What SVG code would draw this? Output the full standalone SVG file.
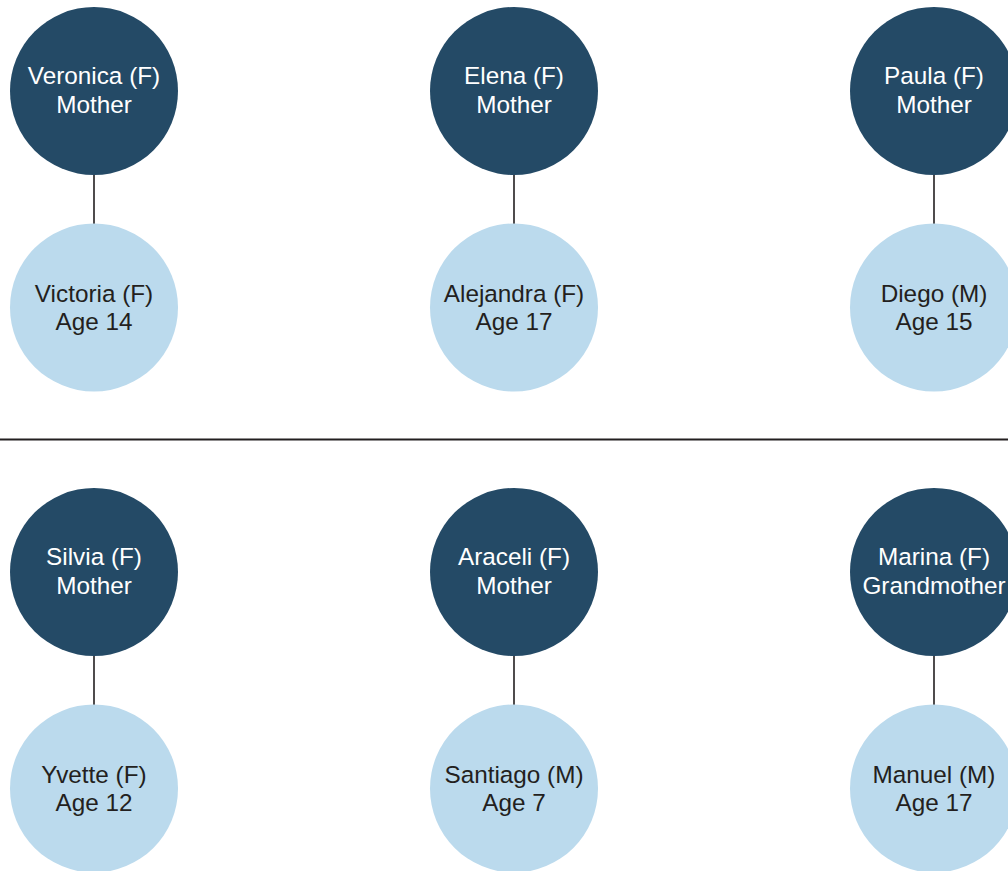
<svg xmlns="http://www.w3.org/2000/svg" width="1008" height="871" viewBox="0 0 1008 871">
<style>
.p{fill:#244A66}
.c{fill:#BBDAED}
text{font-family:"Liberation Sans",Arial,sans-serif;font-size:24.3px;text-anchor:middle}
.p+text{fill:#FFFFFF}
.c+text{fill:#231F20}
.ln{stroke:#231F20;stroke-width:1.6;fill:none}
</style>
<rect width="1008" height="871" fill="#FFFFFF"/>
<g id="connectors" class="ln">
<line x1="94" y1="175" x2="94" y2="224"/>
<line x1="514" y1="175" x2="514" y2="224"/>
<line x1="934" y1="175" x2="934" y2="224"/>
<line x1="94" y1="656" x2="94" y2="705"/>
<line x1="514" y1="656" x2="514" y2="705"/>
<line x1="934" y1="656" x2="934" y2="705"/>
<line x1="0" y1="439.5" x2="1008" y2="439.5" stroke-width="2"/>
</g>
<g id="veronica"><circle class="p" cx="94" cy="91" r="84"/><text><tspan x="94" y="84">Veronica (F)</tspan><tspan x="94" y="113">Mother</tspan></text></g>
<g id="victoria"><circle class="c" cx="94" cy="307.5" r="84"/><text><tspan x="94" y="301.5">Victoria (F)</tspan><tspan x="94" y="330">Age 14</tspan></text></g>
<g id="elena"><circle class="p" cx="514" cy="91" r="84"/><text><tspan x="514" y="84">Elena (F)</tspan><tspan x="514" y="113">Mother</tspan></text></g>
<g id="alejandra"><circle class="c" cx="514" cy="307.5" r="84"/><text><tspan x="514" y="301.5">Alejandra (F)</tspan><tspan x="514" y="330">Age 17</tspan></text></g>
<g id="paula"><circle class="p" cx="934" cy="91" r="84"/><text><tspan x="934" y="84">Paula (F)</tspan><tspan x="934" y="113">Mother</tspan></text></g>
<g id="diego"><circle class="c" cx="934" cy="307.5" r="84"/><text><tspan x="934" y="301.5">Diego (M)</tspan><tspan x="934" y="330">Age 15</tspan></text></g>
<g id="silvia"><circle class="p" cx="94" cy="572" r="84"/><text><tspan x="94" y="565">Silvia (F)</tspan><tspan x="94" y="594">Mother</tspan></text></g>
<g id="yvette"><circle class="c" cx="94" cy="788.5" r="84"/><text><tspan x="94" y="782.5">Yvette (F)</tspan><tspan x="94" y="811">Age 12</tspan></text></g>
<g id="araceli"><circle class="p" cx="514" cy="572" r="84"/><text><tspan x="514" y="565">Araceli (F)</tspan><tspan x="514" y="594">Mother</tspan></text></g>
<g id="santiago"><circle class="c" cx="514" cy="788.5" r="84"/><text><tspan x="514" y="782.5">Santiago (M)</tspan><tspan x="514" y="811">Age 7</tspan></text></g>
<g id="marina"><circle class="p" cx="934" cy="572" r="84"/><text><tspan x="934" y="565">Marina (F)</tspan><tspan x="934" y="594">Grandmother</tspan></text></g>
<g id="manuel"><circle class="c" cx="934" cy="788.5" r="84"/><text><tspan x="934" y="782.5">Manuel (M)</tspan><tspan x="934" y="811">Age 17</tspan></text></g>
</svg>
